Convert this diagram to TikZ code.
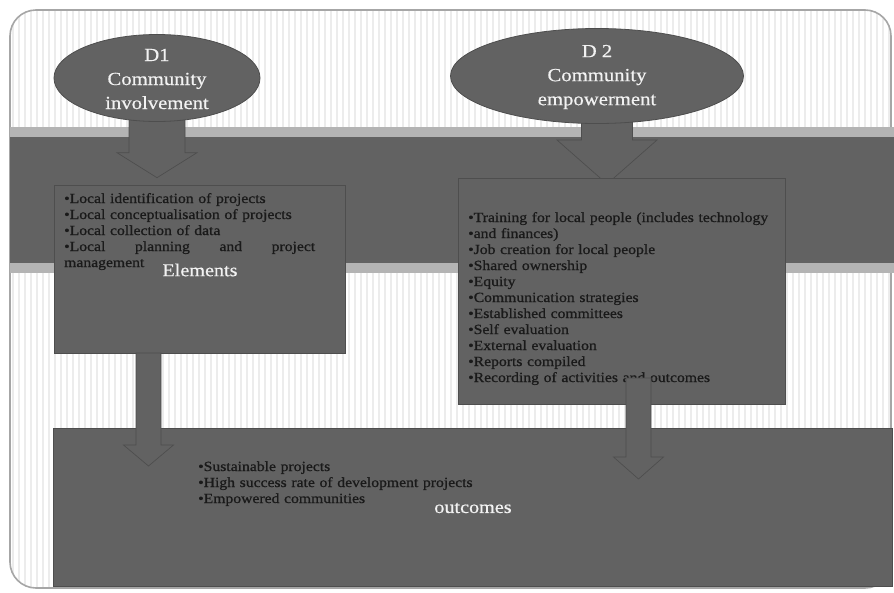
\documentclass[tikz,border=0pt]{standalone}
\usepackage{fontspec}
\setmainfont{Liberation Serif}[FakeStretch=1.12]
\newfontfamily\listfont{Liberation Serif}[FakeStretch=1.12, FakeBold=0.9]
\newfontfamily\whitefont{Liberation Serif}[FakeStretch=1.12, FakeBold=0.5]
\usetikzlibrary{shapes.geometric,calc}
\definecolor{boxgray}{HTML}{626262}
\definecolor{edgegray}{HTML}{4E4E4E}
\definecolor{stripgray}{HTML}{B4B4B4}
\definecolor{textdark}{HTML}{1A1A1A}
\definecolor{textlight}{HTML}{F2F2F2}
\definecolor{framegray}{HTML}{A6A6A6}
\definecolor{stripecol}{HTML}{ECECEC}
\pgfdeclarelayer{back}
\pgfdeclarelayer{mid}
\pgfsetlayers{back,mid,main}
\newcommand\blkarrow[5]{%
  \filldraw[blockarrow] let \p1=(#1), \p2=(#2) in
    (\x1-#3pt,\y1) -- (\x1+#3pt,\y1) -- (\x1+#3pt,\y2+#5pt) -- (\x1+#4pt,\y2+#5pt)
    -- (\x2,\y2) -- (\x1-#4pt,\y2+#5pt) -- (\x1-#3pt,\y2+#5pt) -- cycle;}
\begin{document}
\begin{tikzpicture}[x=1pt,y=-1pt,
  ellipsenode/.style={ellipse, fill=boxgray, draw=edgegray, line width=0.8pt, inner sep=0},
  ellipsetext/.style={text=textlight, align=center, inner sep=0, font=\whitefont\fontsize{18.5}{24}\selectfont},
  boxnode/.style={rectangle, fill=boxgray, draw=edgegray, line width=0.6pt, inner sep=0},
  listnode/.style={anchor=base west, inner sep=0, text=textdark, align=left, font=\listfont\fontsize{14}{16}\selectfont},
  labelnode/.style={text=textlight, inner sep=0, font=\whitefont\fontsize{18}{20}\selectfont},
  blockarrow/.style={fill=boxgray, draw=edgegray, line width=0.7pt, line join=miter},
  stripeline/.style={draw=stripecol, line width=1.3pt}]
\useasboundingbox (0,0) rectangle (894,592);
\begin{pgfonlayer}{back}
  \fill[white] (0,0) rectangle (894,592);
  \begin{scope}
    \clip[rounded corners=26pt] (10,10) rectangle (891,588);
    \foreach \x in {13,19,...,889} \draw[stripeline] (\x,10) -- (\x,588);
  \end{scope}
  \draw[framegray, line width=1.6pt, rounded corners=26pt] (10,10) rectangle (891,588);
  \fill[stripgray] (10,127) rectangle (894,273);
  \fill[boxgray] (10,137) rectangle (894,263);
\end{pgfonlayer}

% ellipses
\node[ellipsenode, minimum width=206pt, minimum height=87pt] (d1) at (157,78) {};
\node[ellipsetext] (d1t) at (157,79) {D1\\Community\\involvement};
\node[ellipsenode, minimum width=293pt, minimum height=95pt] (d2) at (597,76) {};
\node[ellipsetext] (d2t) at (597,77) {D 2\\Community\\empowerment};

% boxes
\node[boxnode, minimum width=291pt, minimum height=168pt] (elem) at (199.5,269) {};
\node[boxnode, minimum width=327pt, minimum height=226pt] (d2box) at (621.5,291) {};
\node[listnode, text width=251pt] (elemlist) at (64,203) {%
  •Local identification of projects\\
  •Local conceptualisation of projects\\
  •Local collection of data\\
  \leavevmode\hbox to 251pt{•Local\hfill planning\hfill and\hfill project}\\
  management};
\node[labelnode] (elemlabel) at (200,270) {Elements};
\node[listnode, text width=315pt] (d2list) at (468,222) {%
  •Training for local people (includes technology\\
  •and finances)\\
  •Job creation for local people\\
  •Shared ownership\\
  •Equity\\
  •Communication strategies\\
  •Established committees\\
  •Self evaluation\\
  •External evaluation\\
  •Reports compiled\\
  •Recording of activities and outcomes};

\node[boxnode, minimum width=839pt, minimum height=158pt] (out) at (472.5,507) {};
\node[listnode, text width=300pt] (outlist) at (198,471) {%
  •Sustainable projects\\
  •High success rate of development projects\\
  •Empowered communities};
\node[labelnode] (outlabel) at (473,508) {outcomes};

% arrow end points
\coordinate (a1s) at ($(d1.south)+(0,-10)$);
\coordinate (a1e) at ($(d1.south |- elem.north)+(0,-7)$);
\coordinate (a2s) at (607,112);
\coordinate (a2e) at (607,184);
\coordinate (a3s) at (148.5,353);
\coordinate (a3e) at (148.5,466);
\coordinate (a4s) at (638.5,378);
\coordinate (a4e) at (638.5,479);

\begin{pgfonlayer}{mid}
  \blkarrow{a1s}{a1e}{28}{40}{25}
  \blkarrow{a2s}{a2e}{25.5}{50}{44}
\end{pgfonlayer}
\blkarrow{a3s}{a3e}{12.5}{25}{21}
\blkarrow{a4s}{a4e}{12.5}{25}{22}
\end{tikzpicture}
\end{document}
